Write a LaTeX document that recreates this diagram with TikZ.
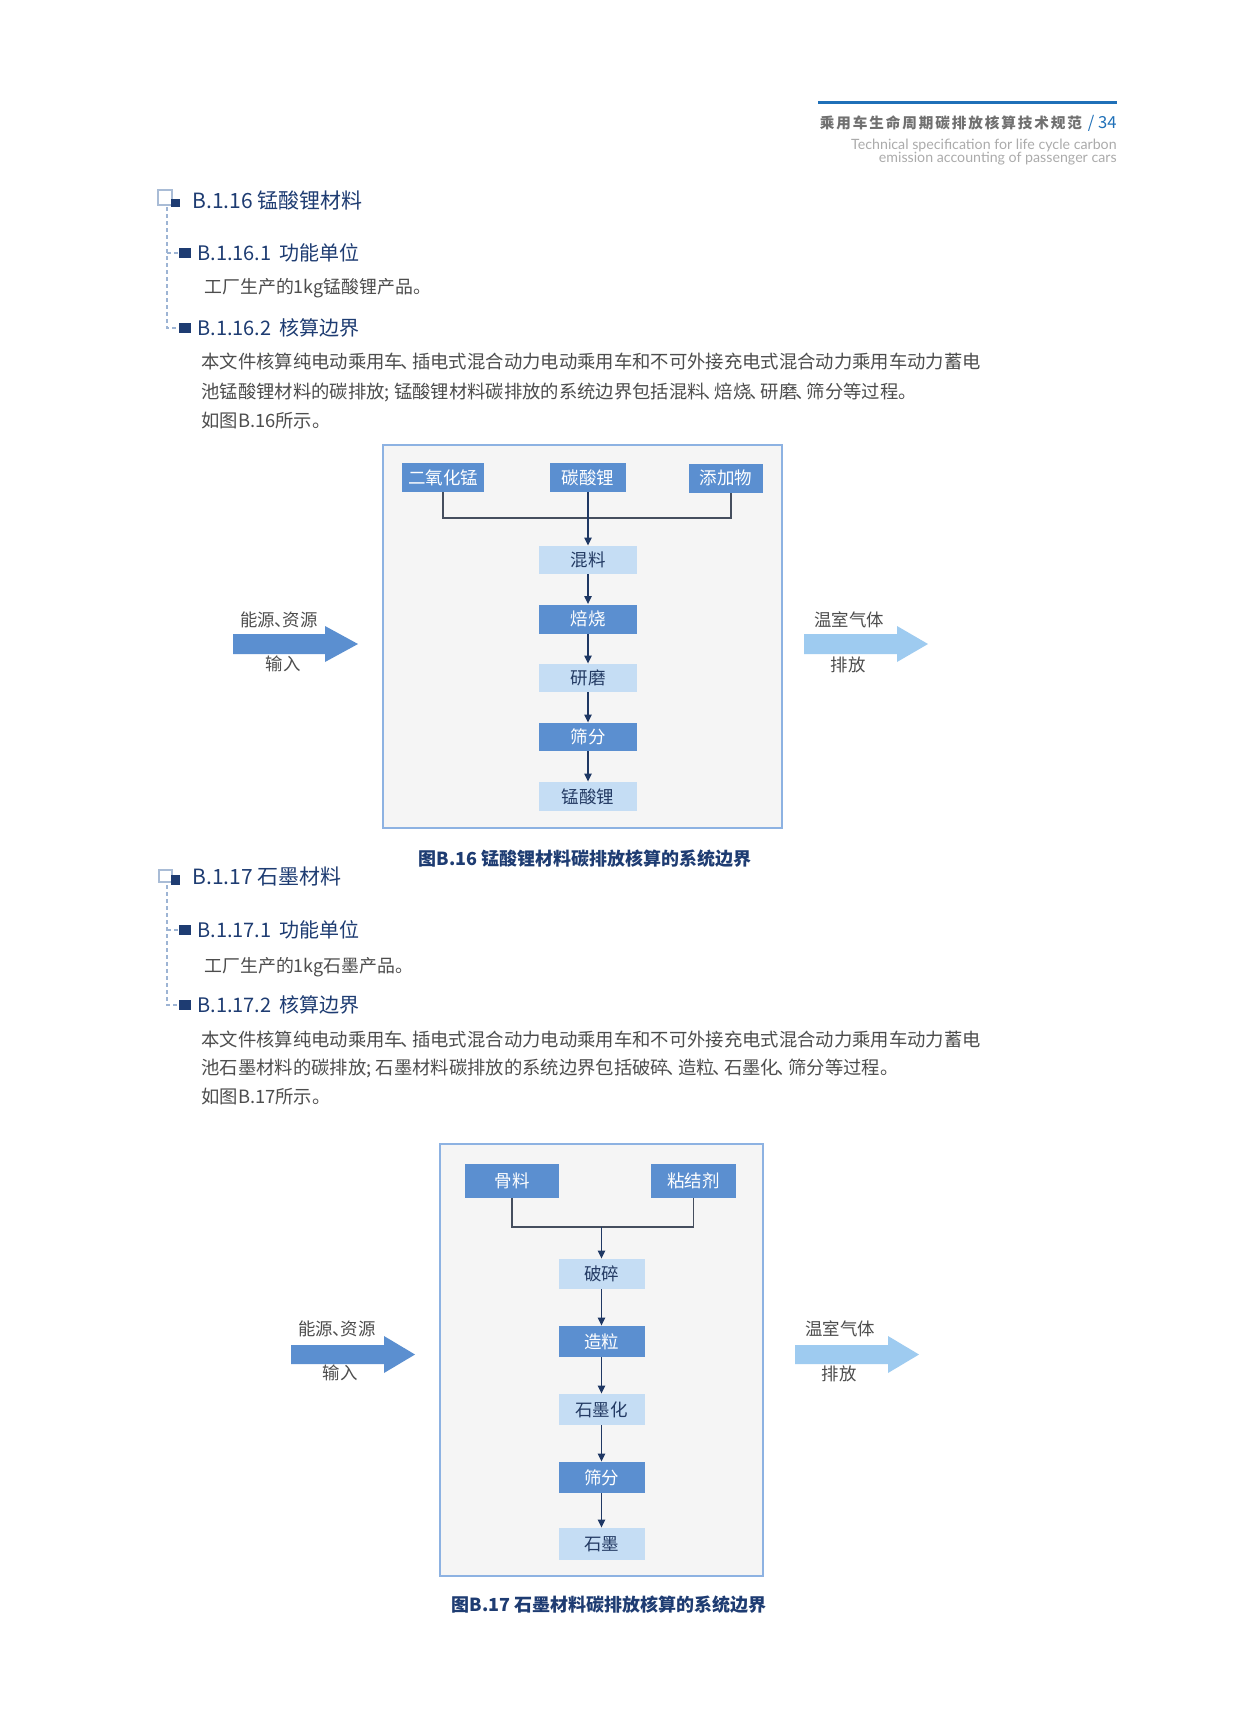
\documentclass[tikz,border=0pt]{standalone}
\usepackage{fontspec}
\setmainfont{Noto Sans CJK SC}
\newfontfamily\engfont{Lato}
\newfontfamily\hdrfont[LetterSpace=13]{Noto Sans CJK SC}
\usetikzlibrary{arrows.meta}
\definecolor{navy}{HTML}{1E3C72}
\definecolor{txtgray}{HTML}{4D4D4D}
\definecolor{boxmid}{HTML}{5B8FD0}
\definecolor{boxlite}{HTML}{C5DDF4}
\definecolor{boxtxt}{HTML}{233A63}
\definecolor{framec}{HTML}{8DB2E2}
\definecolor{bgfill}{HTML}{F5F5F5}
\definecolor{arrowc}{HTML}{1F3864}
\definecolor{linec}{HTML}{454E5E}
\definecolor{headblue}{HTML}{1F70B8}
\definecolor{hdrgray}{HTML}{707070}
\definecolor{enggray}{HTML}{ABABAB}
\definecolor{arrowR}{HTML}{9ECBF0}
\definecolor{arrowL}{HTML}{5B8FD0}
\definecolor{iconc}{HTML}{A9BCD6}
\definecolor{dashc}{HTML}{9DB4D4}
\newcommand\myfs[1]{\fontsize{#1}{#1}\selectfont}
\newcommand\dn{{\kern-0.12em、\kern-0.38em}}
\newcommand\dnl{{\kern-0.05em、\kern-0.5em}}
\tikzset{
  txt/.style={inner sep=0pt, anchor=west},
  sechead/.style={txt, text=navy, font=\myfs{10.5}},
  subhead/.style={txt, text=navy, font=\myfs{10}},
  bodytxt/.style={txt, text=txtgray, font=\myfs{9.17}},
  unittxt/.style={txt, text=txtgray, font=\myfs{8.95}},
  midbox/.style={fill=boxmid, text=white, inner sep=0pt, font=\myfs{8.75}},
  litebox/.style={fill=boxlite, text=boxtxt, inner sep=0pt, font=\myfs{8.75}},
  arrlabel/.style={inner sep=0pt, text=txtgray, font=\myfs{8.7}},
  caption/.style={inner sep=0pt, text=navy, font=\bfseries\myfs{9}},
  flow/.style={draw=arrowc, line width=0.75pt, -{Triangle[length=4pt,width=3.6pt]}},
  feed/.style={draw=linec, line width=0.7pt},
  framebox/.style={draw=framec, fill=bgfill, line width=1pt},
  dashline/.style={draw=dashc, line width=0.6pt, dash pattern=on 2pt off 1.5pt},
}
\begin{document}
\begin{tikzpicture}[x=0.5pt,y=-0.5pt]
\useasboundingbox[fill=white] (0,0) rectangle (1258,1719);

% ---------- page header ----------
\draw[headblue, line width=1.5pt] (818,102) -- (1117,102);
\node[inner sep=0pt, anchor=east, text=hdrgray, font=\myfs{7.3}] (hdr) at (1117,123)
  {{\hdrfont\bfseries 乘用车生命周期碳排放核算技术规范}\hspace{3pt}\textcolor{headblue}{\myfs{8.3}/ 34}};
\node[inner sep=0pt, anchor=east, text=enggray, font=\engfont\myfs{7.1}] (eng1) at (1117,145)
  {Technical specification for life cycle carbon};
\node[inner sep=0pt, anchor=east, text=enggray, font=\engfont\myfs{7.1}] (eng2) at (1117,159)
  {emission accounting of passenger cars};

% ---------- section B.1.16 ----------
\draw[iconc, line width=0.6pt] (158,190) rectangle (172,205);
\fill[navy] (171,199) rectangle (180,207);
\node[sechead] (h16) at (192,201) {B.1.16 锰酸锂材料};
\draw[dashline] (167,207) -- (167,328) -- (179,328);
\draw[dashline] (167,253) -- (179,253);
\fill[navy] (179,248) rectangle (191,258);
\node[subhead] (h161) at (197,253) {B.1.16.1\hspace{4pt}功能单位};
\node[unittxt] (u16) at (204,288) {工厂生产的1kg锰酸锂产品。};
\fill[navy] (179,323) rectangle (191,333);
\node[subhead] (h162) at (197,328) {B.1.16.2\hspace{4pt}核算边界};
\node[bodytxt] (pa1) at (201,362) {本文件核算纯电动乘用车\dn 插电式混合动力电动乘用车和不可外接充电式混合动力乘用车动力蓄电};
\node[bodytxt] (pa2) at (201,392) {池锰酸锂材料的碳排放; 锰酸锂材料碳排放的系统边界包括混料\dn 焙烧\dn 研磨\dn 筛分等过程。};
\node[bodytxt] (pa3) at (201,421) {如图B.16所示。};

% ---------- figure B.16 ----------
\draw[framebox] (383,445) rectangle (782,828);
\node[midbox, minimum width=41pt, minimum height=14.5pt] (b1) at (443,477.5) {二氧化锰};
\node[midbox, minimum width=38pt, minimum height=14.5pt] (b2) at (588,477.5) {碳酸锂};
\node[midbox, minimum width=37pt, minimum height=14.5pt] (b3) at (726,478) {添加物};
\node[litebox, minimum width=49pt, minimum height=14pt] (p1) at (588,560) {混料};
\node[midbox,  minimum width=49pt, minimum height=14.5pt] (p2) at (588,619) {焙烧};
\node[litebox, minimum width=49pt, minimum height=14pt] (p3) at (588,678) {研磨};
\node[midbox,  minimum width=49pt, minimum height=14pt] (p4) at (588,737) {筛分};
\node[litebox, minimum width=49pt, minimum height=14.5pt] (p5) at (588,796.5) {锰酸锂};
\coordinate (c3) at (731,518);
\draw[feed] (b1.south) |- (c3) -- (c3 |- b3.south);
\draw[flow] (b2.south) -- (p1.north);
\draw[flow] (p1.south) -- (p2.north);
\draw[flow] (p2.south) -- (p3.north);
\draw[flow] (p3.south) -- (p4.north);
\draw[flow] (p4.south) -- (p5.north);
\fill[arrowL] (233,634) -- (325,634) -- (325,626) -- (358,644) -- (325,662) -- (325,654) -- (233,654) -- cycle;
\fill[arrowR] (804,634) -- (897,634) -- (897,626) -- (928,644) -- (897,662) -- (897,654) -- (804,654) -- cycle;
\node[arrlabel] (in16a) at (279,620) {能源\dnl 资源};
\node[arrlabel] (in16b) at (283,664) {输入};
\node[arrlabel] (out16a) at (849,620) {温室气体};
\node[arrlabel] (out16b) at (848,665) {排放};
\node[caption] (cap16) at (585,859) {图B.16 锰酸锂材料碳排放核算的系统边界};

% ---------- section B.1.17 ----------
\draw[iconc, line width=0.6pt] (159,870) rectangle (172,882);
\fill[navy] (171,875) rectangle (180,885);
\node[sechead] (h17) at (192,877) {B.1.17 石墨材料};
\draw[dashline] (167,885) -- (167,1005) -- (179,1005);
\draw[dashline] (167,930) -- (179,930);
\fill[navy] (179,925) rectangle (191,935);
\node[subhead] (h171) at (197,930) {B.1.17.1\hspace{4pt}功能单位};
\node[unittxt] (u17) at (204,967) {工厂生产的1kg石墨产品。};
\fill[navy] (179,1000) rectangle (191,1010);
\node[subhead] (h172) at (197,1005) {B.1.17.2\hspace{4pt}核算边界};
\node[bodytxt] (pb1) at (201,1039) {本文件核算纯电动乘用车\dn 插电式混合动力电动乘用车和不可外接充电式混合动力乘用车动力蓄电};
\node[bodytxt] (pb2) at (201,1068) {池石墨材料的碳排放; 石墨材料碳排放的系统边界包括破碎\dn 造粒\dn 石墨化\dn 筛分等过程。};
\node[bodytxt] (pb3) at (201,1097) {如图B.17所示。};

% ---------- figure B.17 ----------
\draw[framebox] (440,1144) rectangle (763,1576);
\node[midbox, minimum width=47pt, minimum height=17pt] (t1) at (512,1181) {骨料};
\node[midbox, minimum width=42.5pt, minimum height=17pt] (t2) at (693.5,1181) {粘结剂};
\node[litebox, minimum width=43pt, minimum height=15pt] (q1) at (601.5,1274) {破碎};
\node[midbox,  minimum width=43pt, minimum height=15.5pt] (q2) at (601.5,1341.5) {造粒};
\node[litebox, minimum width=43pt, minimum height=15.5pt] (q3) at (601.5,1409.5) {石墨化};
\node[midbox,  minimum width=43pt, minimum height=15.5pt] (q4) at (601.5,1477.5) {筛分};
\node[litebox, minimum width=43pt, minimum height=16pt] (q5) at (601.5,1544) {石墨};
\coordinate (j2) at (601.5,1227);
\draw[feed] (t1.south) |- (t2.south |- j2) -- (t2.south);
\draw[flow] (j2) -- (q1.north);
\draw[flow] (q1.south) -- (q2.north);
\draw[flow] (q2.south) -- (q3.north);
\draw[flow] (q3.south) -- (q4.north);
\draw[flow] (q4.south) -- (q5.north);
\fill[arrowL] (291,1345) -- (384,1345) -- (384,1336) -- (415,1354.5) -- (384,1373) -- (384,1364) -- (291,1364) -- cycle;
\fill[arrowR] (795,1345) -- (888,1345) -- (888,1336) -- (919,1354.5) -- (888,1373) -- (888,1364) -- (795,1364) -- cycle;
\node[arrlabel] (in17a) at (337,1329) {能源\dnl 资源};
\node[arrlabel] (in17b) at (340,1373) {输入};
\node[arrlabel] (out17a) at (840,1329) {温室气体};
\node[arrlabel] (out17b) at (839,1374) {排放};
\node[caption] (cap17) at (609,1605) {图B.17 石墨材料碳排放核算的系统边界};
\end{tikzpicture}
\end{document}
